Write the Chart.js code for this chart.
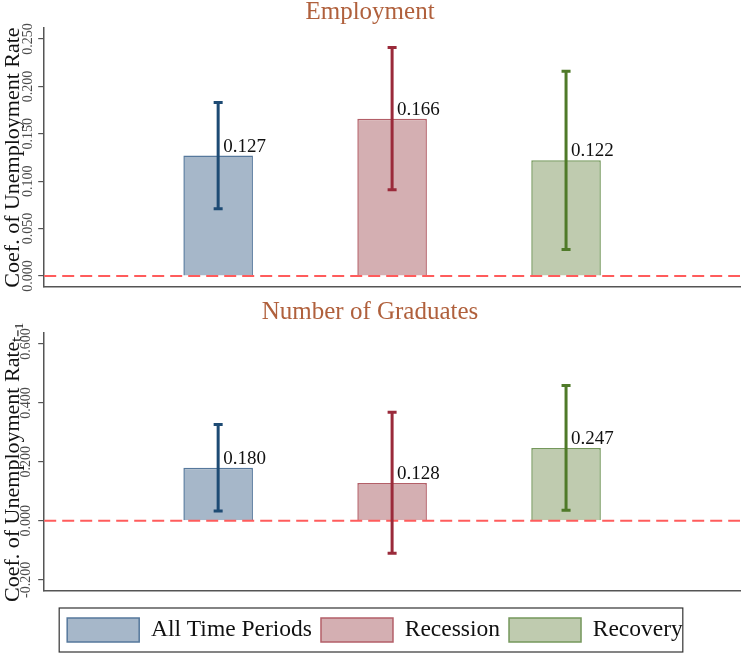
<!DOCTYPE html>
<html>
<head>
<meta charset="utf-8">
<script src="https://cdn.jsdelivr.net/npm/chart.js@4.4.1/dist/chart.umd.min.js"></script>
<style>
  html, body { margin: 0; padding: 0; background: #fff; }
  #wrap { position: relative; width: 742px; height: 655px; }
  #top { position: absolute; left: 0; top: 0; }
  #bottom { position: absolute; left: 0; top: 300px; }
</style>
</head>
<body>
<div id="wrap">
  <canvas id="top" width="742" height="295"></canvas>
  <canvas id="bottom" width="742" height="355"></canvas>
</div>
<script>
// categories and their x slot on the axis
const categories = ['All Time Periods', 'Recession', 'Recovery'];
const slots = [1, 2, 3];

// Employment panel
const empCoef = [0.127, 0.166, 0.122];
const empLow = [0.071, 0.091, 0.028];
const empHigh = [0.183, 0.241, 0.216];
const empTicks = [0, 0.05, 0.1, 0.15, 0.2, 0.25];

// Number of Graduates panel
const gradCoef = [0.180, 0.128, 0.247];
const gradLow = [0.033, -0.110, 0.036];
const gradHigh = [0.327, 0.368, 0.459];
const gradTicks = [-0.2, 0, 0.2, 0.4, 0.6];

const fills = ['#a6b7c9', '#d4afb2', '#bfcbaf'];
const borders = ['#56789c', '#b35f68', '#75985c'];
const whiskers = ['#1e4b74', '#9a2a3a', '#4f7a29'];
const serif = "'Liberation Serif', 'Times New Roman', serif";
const titleColor = '#b0603c';

function makeDatasets(coef) {
    return categories.map((name, i) => ({
        label: name,
        data: [{ x: slots[i], y: coef[i] }],
        backgroundColor: fills[i],
        borderColor: borders[i],
        borderWidth: 1.5,
        barPercentage: 0.4,
        categoryPercentage: 1,
        grouped: false
    }));
}

// dashed zero line, error bars and value labels
function extrasPlugin(coef, low, high) {
    return {
        id: 'extras',
        afterDatasetsDraw(chart) {
            const ctx = chart.ctx;
            const xs = chart.scales.x;
            const ys = chart.scales.y;
            const y0 = ys.getPixelForValue(0);
            ctx.save();
            ctx.strokeStyle = '#ff5c5c';
            ctx.lineWidth = 2;
            ctx.setLineDash([12, 6]);
            ctx.beginPath();
            ctx.moveTo(xs.left, y0);
            ctx.lineTo(xs.right, y0);
            ctx.stroke();
            ctx.setLineDash([]);

            coef.forEach((v, i) => {
                const x = xs.getPixelForValue(slots[i]);
                const yl = ys.getPixelForValue(low[i]);
                const yh = ys.getPixelForValue(high[i]);
                ctx.strokeStyle = whiskers[i];
                ctx.lineWidth = 3;
                ctx.beginPath();
                ctx.moveTo(x, yl);
                ctx.lineTo(x, yh);
                ctx.moveTo(x - 4.5, yl);
                ctx.lineTo(x + 4.5, yl);
                ctx.moveTo(x - 4.5, yh);
                ctx.lineTo(x + 4.5, yh);
                ctx.stroke();

                ctx.fillStyle = '#111';
                ctx.font = '19px ' + serif;
                ctx.textAlign = 'left';
                ctx.textBaseline = 'alphabetic';
                ctx.fillText(v.toFixed(3), x + 5, ys.getPixelForValue(v) - 4);
            });
            ctx.restore();
        }
    };
}

// nudge the legend row a little to the right, then frame it
const legendFrame = {
    id: 'legendFrame',
    afterLayout(chart) {
        const lg = chart.legend;
        if (lg) { lg.left += 5; lg.right += 5; }
    },
    afterDraw(chart) {
        const lg = chart.legend;
        if (!lg || !lg.legendHitBoxes || !lg.legendHitBoxes.length) return;
        const boxes = lg.legendHitBoxes;
        const first = boxes[0];
        const last = boxes[boxes.length - 1];
        const ctx = chart.ctx;
        ctx.save();
        ctx.strokeStyle = '#333';
        ctx.lineWidth = 1.2;
        ctx.strokeRect(first.left - 8, first.top - 10, (last.left + last.width) - (first.left - 8), first.height + 20);
        ctx.restore();
    }
};

function makeOptions(title, yTitle, yMin, yMax, ticks, showLegend, pad, titleGap, xHeight) {
    return {
        responsive: false,
        animation: false,
        layout: { padding: pad },
        plugins: {
            title: {
                display: true,
                text: title,
                color: titleColor,
                font: { family: serif, size: 25, weight: 'normal', lineHeight: 1 },
                padding: { top: 0, bottom: titleGap }
            },
            legend: {
                display: showLegend,
                position: 'bottom',
                onClick: null,
                labels: {
                    boxWidth: 72,
                    boxHeight: 24,
                    padding: 9,
                    color: '#111',
                    font: { family: serif, size: 23.5 }
                }
            },
            tooltip: { enabled: false }
        },
        scales: {
            x: {
                type: 'linear',
                min: 0,
                max: 4,
                offset: false,
                ticks: { display: false, stepSize: 1 },
                grid: { display: false },
                border: { display: true, color: '#555', width: 1.5 },
                afterFit: s => { if (xHeight) s.height = xHeight; }
            },
            y: {
                min: yMin,
                max: yMax,
                afterBuildTicks: s => { s.ticks = ticks.map(v => ({ value: v })); },
                ticks: {
                    callback: v => v.toFixed(3),
                    minRotation: 90,
                    maxRotation: 90,
                    crossAlign: 'center',
                    padding: -6,
                    color: '#4a4a4a',
                    font: { family: serif, size: 14 }
                },
                grid: { drawOnChartArea: false, drawTicks: true, tickLength: 6, color: '#555', lineWidth: 1.2 },
                border: { display: true, color: '#555', width: 1.5 },
                title: {
                    display: true,
                    text: yTitle,
                    color: '#111',
                    font: { family: serif, size: 22 },
                    padding: { top: 0, bottom: 7 }
                }
            }
        }
    };
}

new Chart(document.getElementById('top'), {
    type: 'bar',
    data: { datasets: makeDatasets(empCoef) },
    options: makeOptions('Employment', 'Coef. of Unemployment Rate', -0.0116, 0.2616, empTicks, false,
        { left: 0, right: 2, top: 0, bottom: 0 }, 3, 0),
    plugins: [extrasPlugin(empCoef, empLow, empHigh)]
});

new Chart(document.getElementById('bottom'), {
    type: 'bar',
    data: { datasets: makeDatasets(gradCoef) },
    options: makeOptions('Number of Graduates', 'Coef. of Unemployment Rate\u209c\u208b\u2081', -0.238, 0.637, gradTicks, true,
        { left: 0, right: 2, top: 0, bottom: 3 }, 8, 18),
    plugins: [extrasPlugin(gradCoef, gradLow, gradHigh), legendFrame]
});
</script>
</body>
</html>
